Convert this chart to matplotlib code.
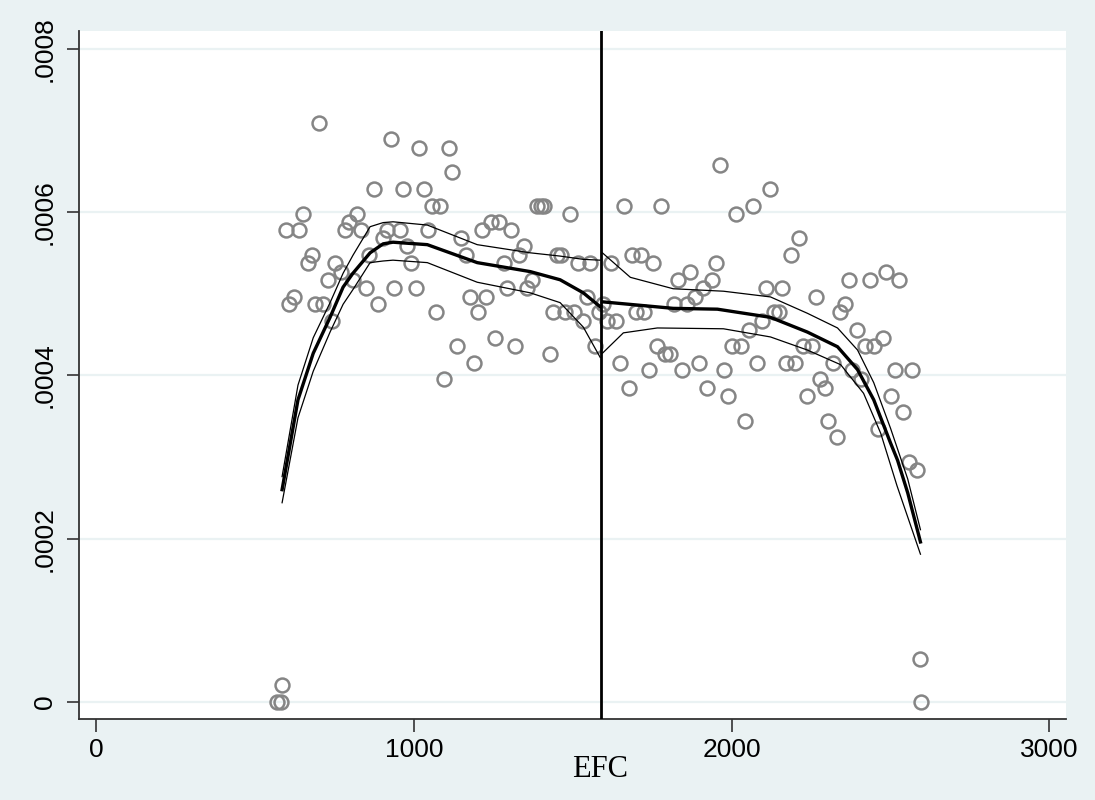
import matplotlib
matplotlib.use("Agg")
import matplotlib.pyplot as plt

# scatter: EFC vs outcome, left of cutoff
left_x = [702, 927, 1017, 1111, 1121, 874, 966, 1031, 1058, 1082, 1387, 1400, 1410,
          1490, 650, 598, 638, 822, 796, 783, 833, 915, 957, 901, 1045, 1149, 1214,
          1242, 1267, 1305, 978, 1347, 1332, 678, 665, 753, 860, 770, 1164, 990, 1282,
          1450, 1463, 1515, 1555, 728, 808, 849, 938, 1005, 1371, 1356, 1293, 623, 608,
          690, 715, 886, 1177, 1227, 1545, 743, 1070, 1201, 1438, 1476, 1505, 1532,
          1581, 1135, 1255, 1319, 1427, 1189, 1096, 1571, 584, 569, 582]
left_y = [.000709, .000689, .000678, .000678, .000649, .000628, .000628, .000628,
          .000607, .000607, .000607, .000607, .000607, .000598, .000598, .000578,
          .000578, .000598, .000588, .000578, .000578, .000578, .000578, .000568,
          .000578, .000568, .000578, .000588, .000588, .000578, .000558, .000558,
          .000547, .000547, .000537, .000537, .000547, .000527, .000547, .000537,
          .000537, .000547, .000547, .000537, .000537, .000517, .000517, .000507,
          .000507, .000507, .000517, .000507, .000507, .000496, .000487, .000487,
          .000487, .000487, .000496, .000496, .000496, .000467, .000477, .000477,
          .000477, .000477, .000477, .000467, .000477, .000436, .000446, .000436,
          .000426, .000415, .000396, .000436, .0000208, 0, 0]

# scatter, right of cutoff
right_x = [1964, 2120, 1661, 1779, 2067, 2014, 2212, 2186, 1686, 1716, 1753, 1621,
           1870, 1950, 1830, 1938, 1910, 1883, 1817, 1860, 2108, 2159, 2264, 2369,
           2435, 2487, 2527, 2356, 2342, 2395, 2421, 2447, 2475, 2132, 2148, 2094,
           2055, 1595, 1608, 1636, 1699, 1725, 1765, 1791, 1807, 1647, 1739, 1844,
           1896, 1676, 1923, 1975, 1987, 2043, 2001, 2030, 2080, 2172, 2198, 2224,
           2253, 2318, 2279, 2293, 2238, 2302, 2332, 2379, 2408, 2513, 2568, 2500,
           2540, 2460, 2558, 2584, 2592, 2597]
right_y = [.000658, .000628, .000607, .000607, .000607, .000598, .000568, .000547,
           .000547, .000547, .000537, .000537, .000527, .000537, .000517, .000517,
           .000507, .000496, .000487, .000487, .000507, .000507, .000496, .000517,
           .000517, .000527, .000517, .000487, .000477, .000456, .000436, .000436,
           .000446, .000477, .000477, .000467, .000456, .000487, .000467, .000467,
           .000477, .000477, .000436, .000426, .000426, .000415, .000406, .000406,
           .000415, .000385, .000385, .000406, .000375, .000344, .000436, .000436,
           .000415, .000415, .000415, .000436, .000436, .000415, .000396, .000385,
           .000375, .000344, .000325, .000406, .000396, .000406, .000406, .000375,
           .000355, .000334, .000294, .000284, .0000523, 0]

# local polynomial fit with confidence band, left side
fitL_x = [585, 635, 683, 736, 777, 808, 862, 903, 934, 1042, 1199, 1366, 1460, 1533, 1586]
fitL_y = [.000260, .000370, .000427, .000471, .000508, .000525, .000550, .000561,
          .000563, .000560, .000538, .000527, .000517, .000501, .000484]
upL_y = [.000276, .000388, .000446, .000489, .000525, .000547, .000582, .000587,
         .000588, .000584, .000560, .000550, .000546, .000542, .000541]
loL_y = [.000244, .000348, .000405, .000453, .000487, .000505, .000538, .000540,
         .000541, .000538, .000514, .000501, .000489, .000459, .000422]

# right side
fitR_x = [1593, 1816, 1955, 2122, 2238, 2333, 2396, 2447, 2500, 2522, 2554, 2594]
fitR_y = [.000490, .000482, .000481, .000471, .000453, .000435, .000407, .000370,
          .000317, .000296, .000256, .000196]
upR_x = [1593, 1681, 1816, 1974, 2122, 2238, 2333, 2396, 2447, 2500, 2554, 2594]
upR_y = [.000550, .000520, .000506, .000503, .000496, .000476, .000458, .000431,
         .000391, .000335, .000273, .000211]
loR_x = [1593, 1659, 1766, 1974, 2122, 2238, 2343, 2415, 2469, 2520, 2594]
loR_y = [.000427, .000452, .000458, .000457, .000447, .000431, .000413, .000378,
         .000329, .000265, .000181]

cutoff = 1588

bg = '#EAF2F3'
fig = plt.figure(figsize=(10.95, 8), dpi=100, facecolor=bg)
ax = fig.add_axes([0.0719, 0.10125, 0.9016, 0.8604])
ax.set_facecolor('white')

ax.plot(left_x + right_x, left_y + right_y, linestyle='', marker='o',
        markersize=10, markerfacecolor='none', markeredgecolor='#858585',
        markeredgewidth=1.8, zorder=2)

for xs, ys, lw in [(fitL_x, fitL_y, 2.4), (fitL_x, upL_y, 0.9), (fitL_x, loL_y, 0.9),
                   (fitR_x, fitR_y, 2.4), (upR_x, upR_y, 0.9), (loR_x, loR_y, 0.9)]:
    ax.plot(xs, ys, color='black', lw=lw, zorder=3)

ax.axvline(cutoff, color='black', lw=2, zorder=4)

ax.set_xlim(-55, 3052)
ax.set_ylim(-0.0000208, 0.000822)

ax.set_xticks([0, 1000, 2000, 3000])
ax.set_yticks([0, .0002, .0004, .0006, .0008])
ax.set_yticklabels(['0', '.0002', '.0004', '.0006', '.0008'], rotation=90, va='center')

font = 'Liberation Sans'
for lab in ax.get_xticklabels() + ax.get_yticklabels():
    lab.set_fontfamily(font)
    lab.set_fontsize(19)

ax.tick_params(axis='both', direction='out', length=9, width=1.2, color='#333333')
ax.tick_params(axis='x', pad=5)
ax.tick_params(axis='y', pad=7)

ax.grid(axis='y', color=bg, lw=1.6)
ax.set_axisbelow(True)

for s in ['top', 'right']:
    ax.spines[s].set_visible(False)
for s in ['left', 'bottom']:
    ax.spines[s].set_color('#333333')
    ax.spines[s].set_linewidth(1.3)

ax.set_xlabel('EFC', family='Liberation Serif', fontsize=22)
ax.xaxis.set_label_coords(0.528, -0.052)

fig.savefig('out.png', dpi=100, facecolor=bg)
